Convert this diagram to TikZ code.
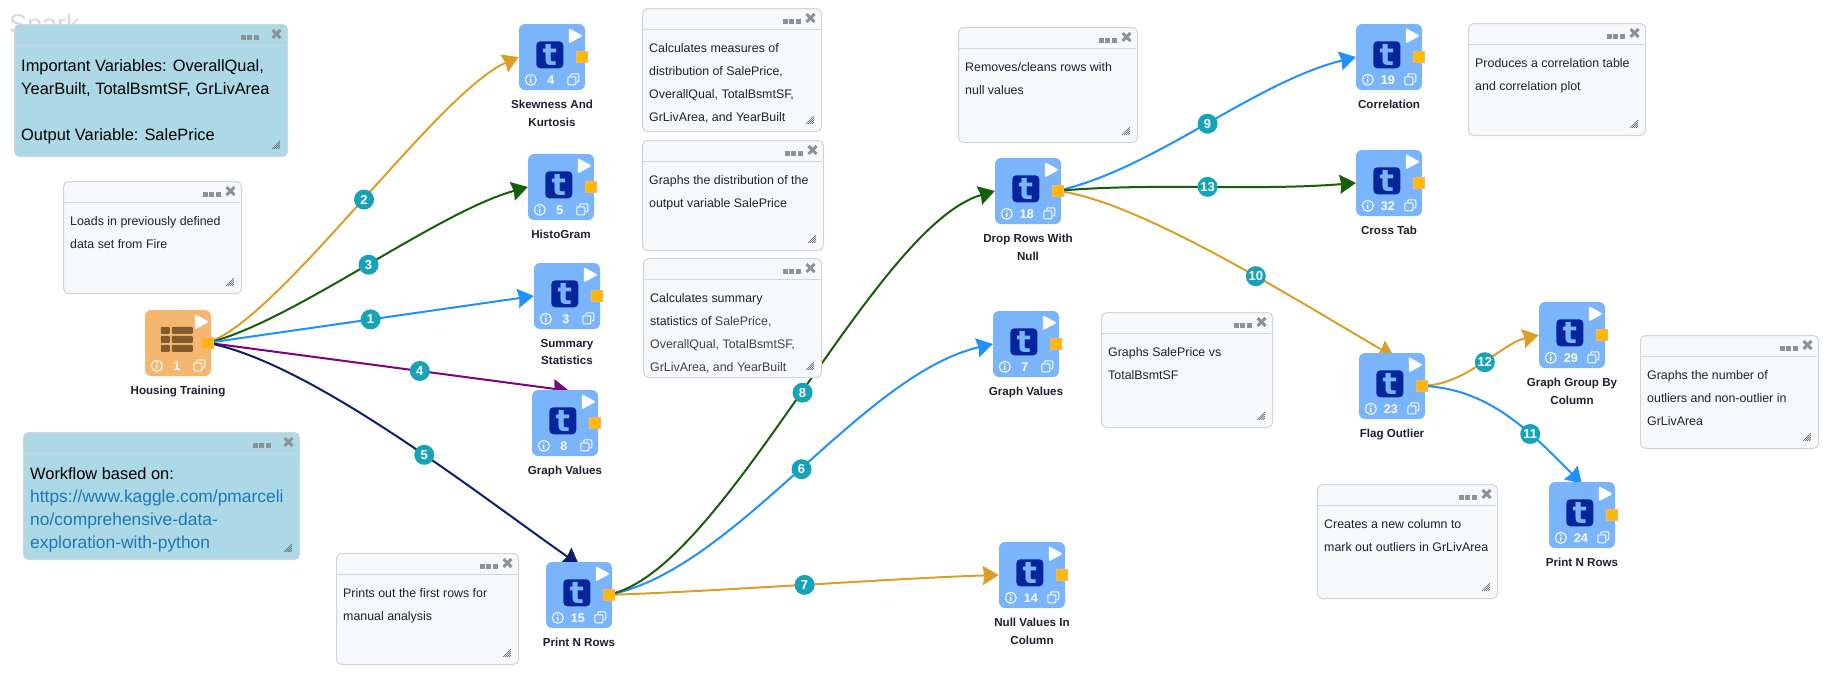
\documentclass[tikz,border=0pt]{standalone}
\usepackage{fontspec}
\setmainfont{Liberation Sans}
\newfontfamily\logofont{DejaVu Sans}
\usetikzlibrary{arrows.meta,backgrounds}

\definecolor{taskblue}{HTML}{7AB5FB}
\definecolor{logoblue}{HTML}{06249C}
\definecolor{taskorange}{HTML}{F5B76F}
\definecolor{rowbrown}{HTML}{7F5B2E}
\definecolor{portfill}{HTML}{FFB800}
\definecolor{portline}{HTML}{FFB070}
\definecolor{badgeteal}{HTML}{17A2B8}
\definecolor{notefill}{HTML}{F7F8FA}
\definecolor{noteline}{HTML}{D0D4DC}
\definecolor{markgray}{HTML}{8C9396}
\definecolor{inkdark}{HTML}{20202E}
\definecolor{inksoft}{HTML}{404048}
\definecolor{linkorange}{HTML}{DC9E26}
\definecolor{linkgreen}{HTML}{145F08}
\definecolor{linkblue}{HTML}{1E90FF}
\definecolor{linkpurple}{HTML}{800080}
\definecolor{linknavy}{HTML}{0B1F6B}
\definecolor{urlblue}{HTML}{1B78B8}
\definecolor{lightblue}{HTML}{ADD8E6}

\tikzset{
  taskbox/.style={minimum size=66pt,inner sep=0pt,rounded corners=6pt,fill=taskblue},
  tasktitle/.style={anchor=north,align=center,inner sep=0pt,text=inkdark,
    font=\bfseries\fontsize{11.6}{17.3}\selectfont},
  tasklogo/.style={minimum size=27pt,inner sep=0pt,rounded corners=4pt,fill=logoblue,
    text=taskblue,font=\logofont\bfseries\fontsize{30}{30}\selectfont},
  tasknum/.style={inner sep=0pt,text=white,font=\bfseries\fontsize{12.5}{12.5}\selectfont},
  port/.style={minimum size=11pt,inner sep=0pt,fill=portfill,draw=portline,line width=1pt},
  badge/.style={circle,minimum size=20pt,inner sep=0pt,fill=badgeteal,text=white,
    font=\bfseries\fontsize{13}{13}\selectfont},
  link/.style={line width=2pt,-{Stealth[length=16pt,width=19pt,inset=1.5pt]}},
  plainbox/.style={anchor=north west,inner sep=0pt,rounded corners=5pt,fill=notefill,
    draw=noteline,line width=1pt},
  bluebox/.style={plainbox,fill=lightblue},
  plaindots/.style={},
  bluedots/.style={xshift=-8pt},
  plaintext/.style={anchor=north west,align=left,inner sep=0pt,text=inkdark,
    font=\fontsize{12.4}{23}\selectfont},
  bluetext/.style={plaintext,text=black,font=\fontsize{16.4}{23}\selectfont}
}

% kind, name, x, y, width, height, text
\newcommand{\notebox}[7]{
  \node[#1box,minimum width=#5pt,minimum height=#6pt] (#2) at (#3,#4) {};
  \begin{scope}[shift={(#2.north west)}]
    \draw[noteline,line width=.8pt] (1,21) -- (#5-1,21);
    \foreach \d in {38,31.7,25.3}
      \fill[markgray,#1dots] (#5-\d,10.5) rectangle +(5,5);
    \draw[markgray,line width=3pt] (#5-14.5,6) -- (#5-6.5,14) (#5-14.5,14) -- (#5-6.5,6);
    \foreach \d in {2,4,6,8}
      \draw[black!65,line width=.6pt] (#5-7-\d,#6-7) -- (#5-7,#6-7-\d);
    \node[#1text] (#2t) at (7,35.5) {#7};
  \end{scope}
}

% style, number, x, y, title
\newcommand{\taskbody}[5]{
  \node[taskbox,#1] (t#2) at (#3,#4) {};
  \begin{scope}[shift={(t#2.north west)}]
    \fill[white,draw=white,line width=2pt,line join=round] (51,6) -- (51,18) -- (62,12) -- cycle;
    \node[port] (p#2) at (63,33) {};
    \draw[white,line width=1pt] (12,56) circle (5.5);
    \fill[white] (11.4,55) rectangle (12.6,59) (11.4,52.5) rectangle (12.6,53.7);
    \node[tasknum] (c#2) at (32,56) {#2};
    \draw[white,line width=1pt,rounded corners=1pt] (52,52) -- (52,50) -- (60,50) -- (60,58) -- (58,58);
    \draw[white,line width=1pt,rounded corners=1pt] (49,53) rectangle (57,61);
  \end{scope}
  \node[tasktitle] (h#2) at ([yshift=-10pt]t#2.south) {#5};
}

\begin{document}
\begin{tikzpicture}[x=1pt,y=-1pt]
  \useasboundingbox (0,0) rectangle (1831,675);
  \node[anchor=base west,inner sep=0pt,text=black!15,font=\fontsize{27}{27}\selectfont] (spark) at (9,33) {Spark};

  \taskbody{fill=taskorange}{1}{178}{343}{Housing Training}
  \begin{scope}[shift={(t1.north west)}]
    \foreach \y in {17,26,35} {
      \fill[rowbrown,rounded corners=1pt] (16,\y) rectangle +(9,7);
      \fill[rowbrown,rounded corners=1pt] (27,\y) rectangle +(21,7);
    }
  \end{scope}

  \foreach \id/\x/\y/\title in {
    4/552/57/{Skewness And\\Kurtosis},
    5/561/187/{HistoGram},
    3/567/296/{Summary\\Statistics},
    8/565/423/{Graph Values},
    15/579/595/{Print N Rows},
    14/1032/575/{Null Values In\\Column},
    7/1026/344/{Graph Values},
    18/1028/191/{Drop Rows With\\Null},
    19/1389/57/{Correlation},
    32/1389/183/{Cross Tab},
    23/1392/386/{Flag Outlier},
    29/1572/335/{Graph Group By\\Column},
    24/1582/515/{Print N Rows}} {
    \taskbody{}{\id}{\x}{\y}{\title}
    \node[tasklogo] (l\id) at ([shift={(31,31)}]t\id.north west) {t};
  }

  \begin{scope}[on background layer]
    \draw[link,linkorange] (p1) .. controls +(80,-35) and +(-80,35) .. node[badge] {2} (t4.west);
    \draw[link,linkgreen] (p1) .. controls +(90,-25) and +(-90,25) .. node[badge] {3} (t5.west);
    \draw[link,linkblue] (p1) -- node[badge,pos=.49] {1} (t3.west);
    \draw[link,linkpurple] (p1) -- node[badge,pos=.58] {4} ([shift={(4,1)}]t8.north);
    \draw[link,linknavy] (p1) .. controls +(110,25) and +(-100,-70) .. node[badge,pos=.567] {5} ([shift={(0,3)}]t15.north);
    \draw[link,linkorange] (p15) .. controls +(100,-3) and +(-100,3) .. node[badge] {7} (t14.west);
    \draw[link,linkblue] (p15) .. controls +(130,-30) and +(-130,30) .. node[badge] {6} (t7.west);
    \draw[link,linkgreen] (p15) .. controls +(120,-35) and +(-120,35) .. node[badge] {8} (t18.west);
    \draw[link,linkblue] (p18) .. controls +(100,-25) and +(-100,25) .. node[badge] {9} (t19.west);
    \draw[link,linkgreen] (p18) .. controls +(100,-8) and +(-100,8) .. node[badge] {13} (t32.west);
    \draw[link,linkorange] (p18) .. controls +(90,15) and +(-90,-52) .. node[badge,pos=.58] {10} ([shift={(2,4)}]t23.north);
    \draw[link,linkorange] (p23) .. controls +(45,-3) and +(-35,8) .. node[badge] {12} (t29.west);
    \draw[link,linkblue] (p23) .. controls +(70,5) and +(-50,-50) .. node[badge,pos=.64] {11} ([shift={(0,2)}]t24.north);
  \end{scope}

  \notebox{blue}{nvars}{14}{24}{273}{132}{Important Variables: OverallQual,\\YearBuilt, TotalBsmtSF, GrLivArea\\[23pt]Output Variable: SalePrice}
  \notebox{plain}{nload}{63}{181}{178}{112}{Loads in previously defined\\data set from Fire}
  \notebox{blue}{nwork}{23}{432}{276}{127}{Workflow based on:\\\textcolor{urlblue}{\fontsize{17.4}{23}\selectfont https://www.kaggle.com/pmarceli}\\\textcolor{urlblue}{\fontsize{17.4}{23}\selectfont no/comprehensive-data-}\\\textcolor{urlblue}{\fontsize{17.4}{23}\selectfont exploration-with-python}}
  \notebox{plain}{nskew}{642}{8}{179}{123}{Calculates measures of\\distribution of SalePrice,\\OverallQual, TotalBsmtSF,\\GrLivArea, and YearBuilt}
  \notebox{plain}{nhist}{642}{140}{181}{110}{Graphs the distribution of the\\output variable SalePrice}
  \notebox{plain}{nsumm}{643}{258}{178}{119}{Calculates summary\\statistics of \textcolor{inksoft}{SalePrice,}\\\textcolor{inksoft}{OverallQual, TotalBsmtSF,}\\\textcolor{inksoft}{GrLivArea, and YearBuilt}}
  \notebox{plain}{nrows}{336}{553}{182}{111}{Prints out the first rows for\\manual analysis}
  \notebox{plain}{ndrop}{958}{27}{179}{115}{Removes/cleans rows with\\null values}
  \notebox{plain}{nvals}{1101}{312}{171}{115}{Graphs SalePrice vs\\TotalBsmtSF}
  \notebox{plain}{ncorr}{1468}{23}{177}{112}{Produces a correlation table\\and correlation plot}
  \notebox{plain}{ngroup}{1640}{335}{178}{113}{Graphs the number of\\outliers and non-outlier in\\GrLivArea}
  \notebox{plain}{nflag}{1317}{484}{180}{114}{Creates a new column to\\mark out outliers in GrLivArea}
\end{tikzpicture}
\end{document}
